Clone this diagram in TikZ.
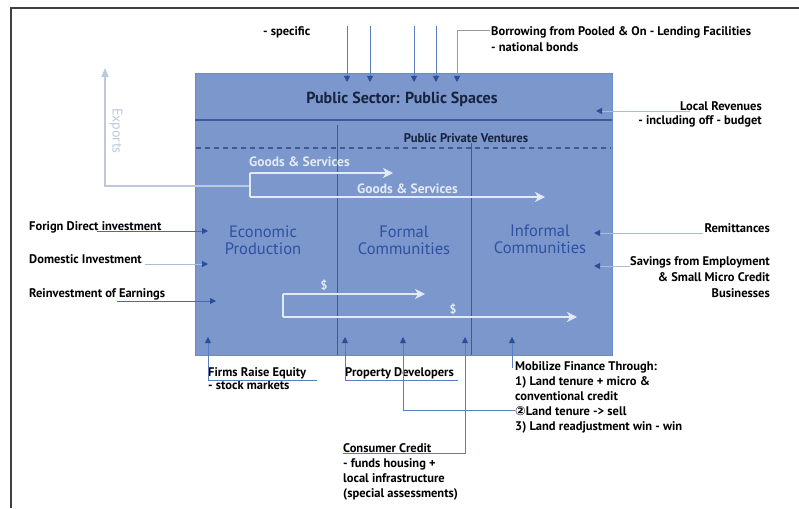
\documentclass[tikz,border=0pt]{standalone}
\usepackage{fontspec}
\setmainfont{PT Sans}
\newfontfamily\dejavu{DejaVu Sans}
\usetikzlibrary{arrows.meta}
\definecolor{boxblue}{HTML}{7B97CC}
\definecolor{boxedge}{HTML}{6C89C2}
\definecolor{divblue}{HTML}{3D5A96}
\definecolor{headblue}{HTML}{2B4E9A}
\definecolor{linblue}{HTML}{5B7DC0}
\definecolor{palelin}{HTML}{A9BCD9}
\definecolor{wline}{HTML}{E2EAF7}
\definecolor{secblue}{HTML}{2F50A2}
\definecolor{expgray}{HTML}{BCC9DC}
\definecolor{navy}{HTML}{17233F}
\begin{document}
\begin{tikzpicture}[x=1pt,y=-1pt,
  lbl/.style={font=\bfseries\fontsize{12.5}{15}\selectfont, inner sep=0pt, text=black},
  seclbl/.style={font=\fontsize{16.5}{17}\selectfont, inner sep=0pt, text=secblue, align=center},
  wlbl/.style={font=\bfseries\fontsize{13.5}{14}\selectfont, inner sep=0pt, text=wline},
  inarr/.style={draw=linblue, line width=0.9pt, -{Triangle[length=6pt,width=6pt,color=headblue]}},
  palearr/.style={draw=palelin, line width=1pt, -{Triangle[length=6pt,width=6pt,color=headblue]}},
  warr/.style={draw=wline, line width=2pt, -{Stealth[length=10pt,width=10pt,inset=3pt]}},
  wline/.style={draw=wline, line width=2pt},
  divline/.style={draw=divblue, line width=0.9pt}
]
\useasboundingbox (0,0) rectangle (799,508);
% frame
\draw[draw=black!75, line width=1.4pt] (11,508) -- (11,8) -- (799,8);

% main box
\node[fill=boxblue, draw=boxedge, line width=0.6pt, minimum width=417pt, minimum height=282pt, inner sep=0pt, anchor=north west] (box) at (195,73) {};
\draw[draw=divblue, line width=1.3pt] (195,120) -- (612,120);
\draw[divline, dashed, dash pattern=on 5pt off 4pt, line width=1.1pt] (196,148) -- (611,148);
\draw[divline] (337,125) -- (337,355);
\draw[divline] (471,143) -- (471,355);

% header texts
\node[font=\bfseries\fontsize{16}{18}\selectfont, text=navy, inner sep=0pt] (pub) at (402,99) {Public Sector: Public Spaces};
\node[font=\bfseries\fontsize{12.6}{14}\selectfont, text=navy, inner sep=0pt] (ppv) at (466,138) {Public Private Ventures};

% sector labels
\node[seclbl] (econ) at (263,240) {Economic\\Production};
\node[seclbl] (formal) at (404,240) {Formal\\Communities};
\node[seclbl] (informal) at (540,239) {Informal\\Communities};

% top texts
\node[lbl, anchor=base west] (spec) at (263,36) {- specific};
\node[lbl, anchor=north west, align=left, font=\bfseries\fontsize{12.5}{16}\selectfont] (borrow) at (491,26) {Borrowing from Pooled \& On - Lending Facilities\\- national bonds};

% top arrows
\coordinate (ta1) at (347,26); \coordinate (tb1) at (347,82);
\coordinate (ta2) at (370,26); \coordinate (tb2) at (370,82);
\coordinate (ta3) at (414,26); \coordinate (tb3) at (414,82);
\coordinate (ta4) at (436,26); \coordinate (tb4) at (436,82);
\coordinate (ta5) at (490,30); \coordinate (tc5) at (457,30); \coordinate (tb5) at (457,82);
\draw[inarr] (ta1) -- (tb1);
\draw[inarr] (ta2) -- (tb2);
\draw[inarr] (ta3) -- (tb3);
\draw[inarr] (ta4) -- (tb4);
\draw[inarr, draw=gray!80] (ta5) -- (tc5) -- (tb5);

% exports
\coordinate (ex0) at (250,186); \coordinate (ex1) at (105,186); \coordinate (ex2) at (105,68);
\draw[draw=expgray, line width=1.5pt, -{Triangle[length=9pt,width=7pt]}] (ex0) -- (ex1) -- (ex2);
\node[font=\fontsize{14}{15}\selectfont, text=expgray, rotate=-90, inner sep=0pt] (exports) at (116,131) {Exports};

% goods & services
\coordinate (g0) at (250,173); \coordinate (g1) at (393,173);
\coordinate (g2) at (250,197); \coordinate (g3) at (545,197);
\draw[wline] (g0) -- (g2);
\draw[warr] (g0) -- (g1);
\draw[warr] (g2) -- (g3);
\node[wlbl, anchor=west] (gs1) at (249,162) {Goods \& Services};
\node[wlbl, anchor=west] (gs2) at (357,189) {Goods \& Services};

% money flows
\coordinate (d0) at (283,294); \coordinate (d1) at (425,294);
\coordinate (d2) at (283,317); \coordinate (d3) at (577,317);
\draw[wline] (d0) -- (d2);
\draw[warr] (d0) -- (d1);
\draw[warr] (d2) -- (d3);
\node[wlbl, font=\bfseries\fontsize{12}{13}\selectfont] (dol1) at (324,285) {\$};
\node[wlbl, font=\bfseries\fontsize{12}{13}\selectfont] (dol2) at (453,309) {\$};

% left inputs
\node[lbl, anchor=base west] (fdi) at (29,230) {Forign Direct investment};
\node[lbl, anchor=base west] (dom) at (29,263) {Domestic Investment};
\node[lbl, anchor=base west] (reinv) at (29,297) {Reinvestment of Earnings};
\coordinate (la1) at (97,231); \coordinate (lb1) at (208,231);
\coordinate (la2) at (145,264); \coordinate (lb2) at (208,264);
\coordinate (la3) at (117,301); \coordinate (lb3) at (216,301);
\draw[inarr, draw=headblue!85] (la1) -- (lb1);
\draw[palearr] (la2) -- (lb2);
\draw[inarr, draw=headblue!85] (la3) -- (lb3);

% right inputs
\node[lbl, anchor=north east, align=right, font=\bfseries\fontsize{12.5}{14}\selectfont] (local) at (762,101) {Local Revenues\\- including off - budget};
\node[lbl, anchor=base east] (remit) at (770,232) {Remittances};
\node[lbl, anchor=north east, align=right, font=\bfseries\fontsize{12.5}{16}\selectfont] (sav) at (770,256) {Savings from Employment\\\& Small Micro Credit\\Businesses};
\coordinate (ra1) at (690,111); \coordinate (rb1) at (596,111);
\coordinate (ra2) at (703,233); \coordinate (rb2) at (594,233);
\coordinate (ra3) at (630,266); \coordinate (rb3) at (594,266);
\draw[palearr] (ra1) -- (rb1);
\draw[palearr] (ra2) -- (rb2);
\draw[palearr] (ra3) -- (rb3);

% bottom sources
\node[lbl, anchor=north west, align=left, font=\bfseries\fontsize{12.5}{13}\selectfont] (firms) at (208,367) {Firms Raise Equity\\- stock markets};
\node[lbl, anchor=base west] (prop) at (345,376) {Property Developers};
\node[lbl, anchor=north west, align=left] (cons) at (343,443) {Consumer Credit\\- funds housing +\\local infrastructure\\(special assessments)};
\node[lbl, anchor=north west, align=left] (mob) at (515,361) {Mobilize Finance Through:\\1) Land tenure + micro \&\\conventional credit\\{\dejavu ②}Land tenure -> sell\\3) Land readjustment win - win};

\coordinate (fa) at (317,380); \coordinate (fb) at (208,380); \coordinate (fc) at (208,337);
\coordinate (pa) at (458,380); \coordinate (pb) at (345,380); \coordinate (pc) at (345,337);
\coordinate (ca) at (515,410); \coordinate (cb) at (403,410); \coordinate (cc) at (403,337);
\coordinate (ka) at (343,453); \coordinate (kb) at (465,453); \coordinate (kc) at (465,337);
\coordinate (ma) at (512,368); \coordinate (mc) at (512,337);
\draw[inarr] (fa) -- (fb) -- (fc);
\draw[inarr] (pa) -- (pb) -- (pc);
\draw[inarr] (ca) -- (cb) -- (cc);
\draw[inarr] (ka) -- (kb) -- (kc);
\draw[inarr] (ma) -- (mc);
\end{tikzpicture}
\end{document}
